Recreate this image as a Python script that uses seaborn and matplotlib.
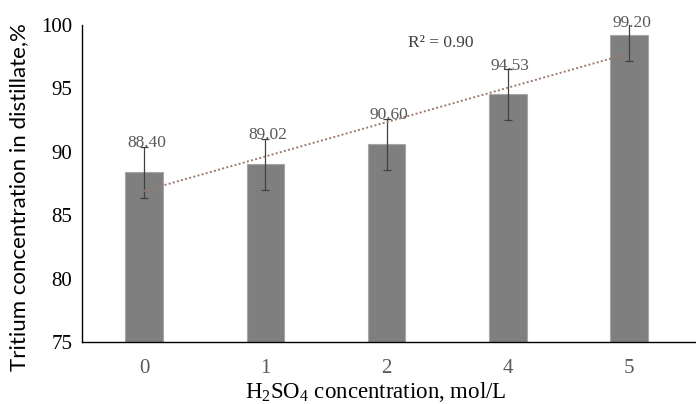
import numpy as np
import pandas as pd
import matplotlib
matplotlib.use("Agg")
import matplotlib.pyplot as plt
import seaborn as sns

# data
concentrations = ["0", "1", "2", "4", "5"]
tritium = [88.40, 89.02, 90.60, 94.53, 99.20]
errors = [2.0, 2.0, 2.0, 2.0, 2.0]
r2_label = "R² = 0.90"

df = pd.DataFrame({"conc": concentrations, "tritium": tritium})

sns.set_style("white")
plt.rcParams["font.family"] = ["Liberation Serif", "DejaVu Serif"]
plt.rcParams["mathtext.fontset"] = "custom"
plt.rcParams["mathtext.rm"] = "Liberation Serif"
plt.rcParams["mathtext.it"] = "Liberation Serif:italic"

fig = plt.figure(figsize=(6.96, 4.04), dpi=100)
ax = fig.add_axes([0.118, 0.153, 0.882, 0.785])

sns.barplot(data=df, x="conc", y="tritium", color="#7f7f7f", width=0.31,
            saturation=1, edgecolor="#a6a6a6", linewidth=0.8, ax=ax, errorbar=None)

pos = np.arange(len(concentrations))
ax.errorbar(pos, tritium, yerr=errors, fmt="none", ecolor="#404040",
            elinewidth=0.9, capsize=3, capthick=0.9, zorder=4, clip_on=True)

# linear trendline over category positions
slope, icpt = np.polyfit(pos + 1, tritium, 1)
ax.plot(pos, slope * (pos + 1) + icpt, linestyle=(0, (1, 1.2)), color="#9c7b6e",
        linewidth=1.4, zorder=5)
ax.text(2.45, 98.6, r2_label, ha="center", va="center", fontsize=12.5, color="#404040")

for x, v, e in zip(pos, tritium, errors):
    ax.text(x + 0.02, min(v + e, 99.9) - 0.35, f"{v:.2f}", ha="center", va="bottom",
            fontsize=12.5, color="#595959")

ax.set_ylim(75, 100)
ax.set_xlim(-0.51, len(concentrations) - 0.45)
ax.set_yticks([75, 80, 85, 90, 95, 100])
ax.tick_params(axis="y", direction="inout", length=8, width=1, labelsize=15,
               labelcolor="black", pad=3)
ax.tick_params(axis="x", length=0, labelsize=15, labelcolor="#595959", pad=12)

sns.despine(ax=ax, top=True, right=True)
ax.spines["left"].set_color("black")
ax.spines["bottom"].set_color("black")
ax.spines["left"].set_linewidth(1)
ax.spines["bottom"].set_linewidth(1)

ax.set_xlabel("H$_2$SO$_4$ concentration, mol/L", fontsize=16.5, color="black")
ax.set_ylabel("Tritium concentration in distillate,%", fontsize=16, color="black",
              family=["Lato", "DejaVu Sans"])
ax.xaxis.set_label_coords(0.479, -0.118)
ax.yaxis.set_label_coords(-0.086, 0.457)

fig.savefig("out.png", dpi=100)
